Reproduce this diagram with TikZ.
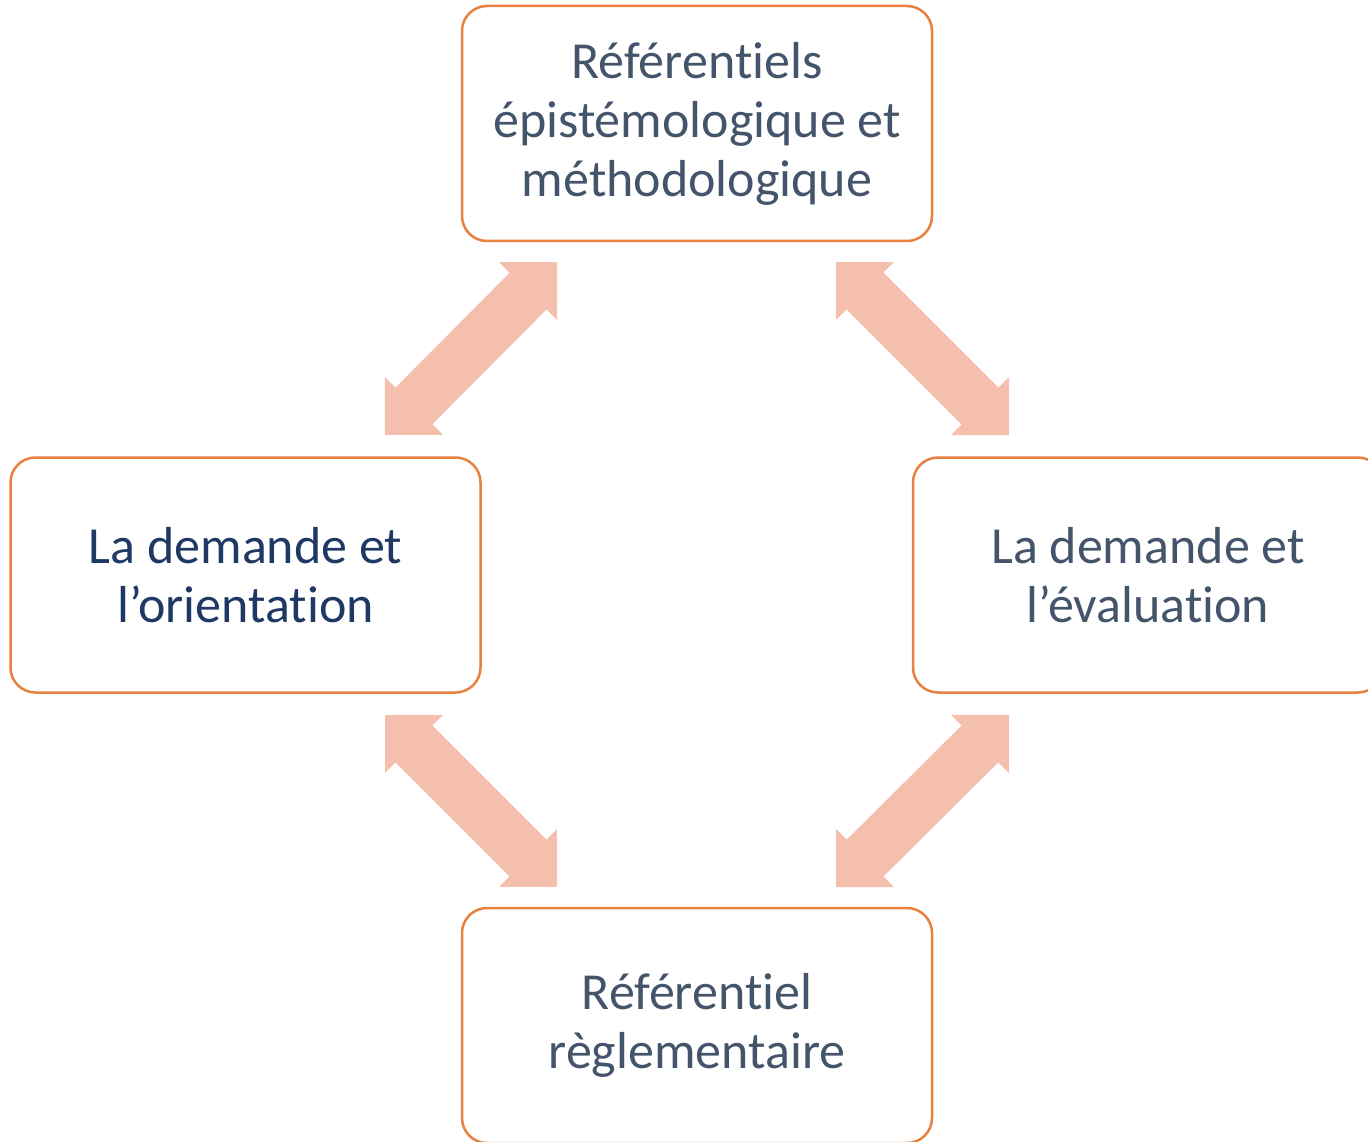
\documentclass[tikz,border=0pt]{standalone}
\usepackage{fontspec}
\setmainfont{Carlito}[RawFeature={-liga,-clig,-calt,-dlig}]
\usetikzlibrary{calc}
\definecolor{boxline}{HTML}{E8803F}
\definecolor{arrowfill}{HTML}{F4BFAD}
\definecolor{txtgray}{HTML}{44546A}
\definecolor{txtnavy}{HTML}{1F3864}
\tikzset{
  box/.style={rectangle, rounded corners=25pt, draw=boxline, line width=2.5pt,
    minimum width=470pt, minimum height=235pt, align=center, fill=white,
    font=\fontsize{52}{59}\selectfont, text=txtgray, inner sep=0pt},
  bigarrow/.style={fill=arrowfill, draw=none, to path={
    let \p1=(\tikztostart), \p2=(\tikztotarget),
        \n1={atan2(\y2-\y1,\x2-\x1)},
        \n3={veclen(\x2-\x1,\y2-\y1)-82pt} in
    -- ++(\n1+45:57.98pt) -- ++(\n1-90:15pt) -- ++(\n1:\n3)
    -- ++(\n1+90:15pt) -- ++(\n1-45:57.98pt) -- ++(\n1-135:57.98pt)
    -- ++(\n1+90:15pt) -- ++(\n1+180:\n3) -- ++(\n1-90:15pt) -- cycle}}
}
\begin{document}
\begin{tikzpicture}[x=1pt,y=-1pt]
\useasboundingbox (0,0) rectangle (1368,1142);
\clip (0,0) rectangle (1368,1142);
\node[box] (top) at (697,123.5) {Référentiels\\épistémologique et\\méthodologique};
\node[box, text=txtnavy] (left) at (245.5,575) {La demande et\\l’orientation};
\node[box] (right) at (1148,575) {La demande et\\l’évaluation};
\node[box] (bottom) at (697,1025.5) {Référentiel\\règlementaire};
\coordinate (tlA) at (385,435);
\coordinate (tlB) at (557,262);
\coordinate (trA) at (836,262);
\coordinate (trB) at (1009,435);
\coordinate (blA) at (385,715);
\coordinate (blB) at (557,887);
\coordinate (brA) at (1009,715);
\coordinate (brB) at (836,887);
\path[bigarrow] (tlA) to (tlB);
\path[bigarrow] (trA) to (trB);
\path[bigarrow] (blA) to (blB);
\path[bigarrow] (brA) to (brB);
\end{tikzpicture}
\end{document}
